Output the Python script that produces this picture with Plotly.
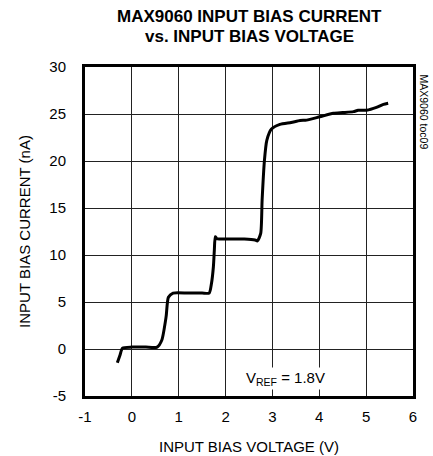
import plotly.graph_objects as go

voltage = [-0.31, -0.25, -0.2, 0.0, 0.3, 0.54, 0.64, 0.73, 0.78, 0.88, 1.2, 1.5, 1.65, 1.70, 1.74, 1.76, 1.78, 1.81, 2.1, 2.4, 2.63, 2.68, 2.75, 2.78, 2.83, 2.88, 2.98, 3.16, 3.4, 3.59, 3.73, 4.01, 4.3, 4.5, 4.73, 4.83, 5.01, 5.22, 5.37, 5.47]
current = [-1.45, -0.6, 0.1, 0.2, 0.2, 0.2, 0.96, 3.4, 5.5, 5.95, 5.95, 5.95, 5.95, 7.0, 8.75, 10.5, 11.95, 11.75, 11.7, 11.7, 11.6, 11.5, 12.3, 15.85, 20.1, 22.2, 23.4, 23.9, 24.1, 24.3, 24.35, 24.7, 25.07, 25.15, 25.25, 25.4, 25.4, 25.7, 26.03, 26.15]

x_ticks = [-1, 0, 1, 2, 3, 4, 5, 6]
y_ticks = [-5, 0, 5, 10, 15, 20, 25, 30]

FONT = "Liberation Sans, Arial"

fig = go.Figure()
fig.add_trace(go.Scatter(x=voltage, y=current, mode="lines",
                         line=dict(color="black", width=3, shape="spline", smoothing=0.6),
                         showlegend=False, hoverinfo="skip"))

fig.update_layout(
    width=433, height=456,
    margin=dict(l=85, r=20, t=67, b=60),
    plot_bgcolor="white", paper_bgcolor="white",
    font=dict(family=FONT, color="black", size=14),
    xaxis=dict(range=[-1, 6], tickvals=x_ticks, ticktext=[str(v) for v in x_ticks],
               showgrid=True, gridcolor="#222", gridwidth=1.3,
               showline=True, linecolor="black", linewidth=3, mirror=True,
               zeroline=False, ticks="", ticklabelstandoff=5, automargin=False,
               tickfont=dict(size=15),
               title=dict(text="INPUT BIAS VOLTAGE (V)", font=dict(size=15), standoff=18)),
    yaxis=dict(range=[-5, 30], tickvals=y_ticks, ticktext=[str(v) for v in y_ticks],
               showgrid=True, gridcolor="#222", gridwidth=1.3,
               showline=True, linecolor="black", linewidth=3, mirror=True,
               zeroline=False, ticks="", ticklabelstandoff=13, automargin=False,
               tickfont=dict(size=15),
               title=dict(text="INPUT BIAS CURRENT (nA)", font=dict(size=15), standoff=16)),
    annotations=[
        dict(text="<b>MAX9060 INPUT BIAS CURRENT</b>", x=0.5, y=1, xref="paper", yref="paper",
             xanchor="center", yanchor="middle", yshift=51, showarrow=False,
             font=dict(size=17)),
        dict(text="<b>vs. INPUT BIAS VOLTAGE</b>", x=0.5, y=1, xref="paper", yref="paper",
             xanchor="center", yanchor="middle", yshift=31, showarrow=False,
             font=dict(size=17)),
        dict(text="V<sub>REF</sub> = 1.8V", x=3.27, y=-3.1, xref="x", yref="y",
             showarrow=False, font=dict(size=15), bgcolor="white"),
        dict(text="MAX9060 toc09", x=1.0, y=1.0, xref="paper", yref="paper",
             xshift=11, yshift=-5, textangle=90, xanchor="center", yanchor="top",
             showarrow=False, font=dict(size=10.5)),
    ],
)

fig.write_html("out.html", config={"displayModeBar": False},
               post_script="document.body.style.margin='0';document.body.style.overflow='hidden';")
